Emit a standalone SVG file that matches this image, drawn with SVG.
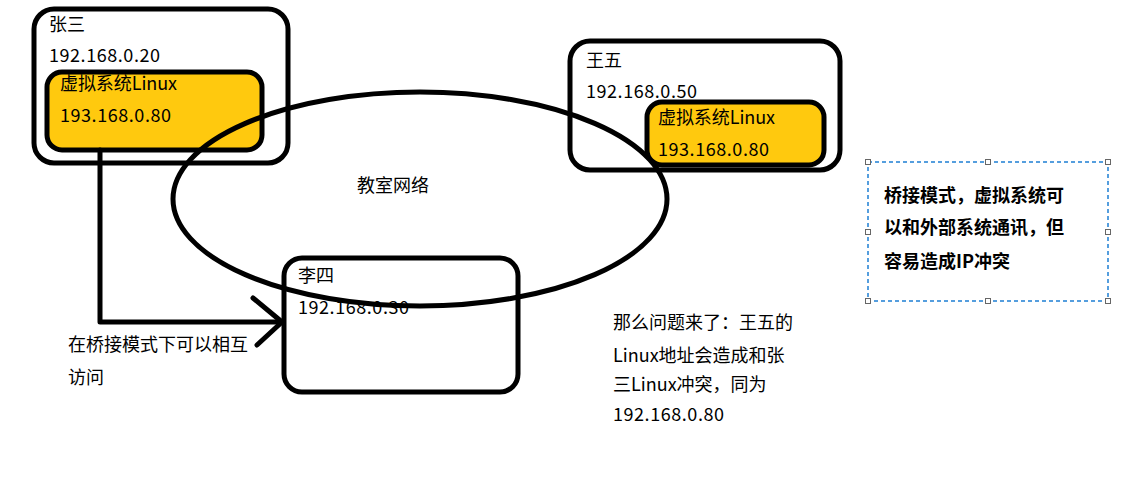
<svg xmlns="http://www.w3.org/2000/svg" width="1140" height="477" viewBox="0 0 1140 477">
<style>
.box{fill:none;stroke:#000;stroke-width:5}
.vm{fill:#FFC90E;stroke:#000;stroke-width:5}
.t{font-family:"Noto Sans CJK SC","Microsoft YaHei",sans-serif;font-size:18px;fill:#000}
.b{font-weight:bold}
.ln{fill:none;stroke:#000;stroke-width:5;stroke-linecap:round;stroke-linejoin:round}
.h{fill:#fff;stroke:#666;stroke-width:1}
</style>
<rect width="1140" height="477" fill="#fff"/>
<g id="zhangsan">
<rect class="box" x="34" y="9" width="254" height="154" rx="20"/>
<text class="t" x="49" y="31">张三</text>
<text class="t" x="49" y="62" textLength="111">192.168.0.20</text>
<g id="zhangsan-vm">
<rect class="vm" x="47" y="72" width="215" height="78" rx="15"/>
<text class="t" x="60" y="90" textLength="117">虚拟系统Linux</text>
<text class="t" x="60" y="122" textLength="111">193.168.0.80</text>
</g>
</g>
<g id="wangwu">
<rect class="box" x="570" y="41" width="270" height="129" rx="20"/>
<text class="t" x="586" y="67">王五</text>
<text class="t" x="586" y="98" textLength="111">192.168.0.50</text>
<g id="wangwu-vm">
<rect class="vm" x="647" y="102" width="177" height="63" rx="15"/>
<text class="t" x="658" y="124" textLength="117">虚拟系统Linux</text>
<text class="t" x="658" y="156" textLength="111">193.168.0.80</text>
</g>
</g>
<g id="lisi">
<rect class="box" x="284" y="258" width="234" height="134" rx="18"/>
<text class="t" x="298" y="282">李四</text>
<text class="t" x="298" y="314" textLength="111">192.168.0.30</text>
</g>
<g id="network">
<ellipse class="ln" cx="420" cy="199" rx="247" ry="107"/>
<text class="t" x="357" y="192">教室网络</text>
</g>
<g id="connectors">
<polyline class="ln" points="100,150 100,322 282,322" stroke-linecap="butt"/>
<polyline class="ln" points="253,298 282,322 257,345"/>
</g>
<g id="bridge-note">
<text class="t" x="68" y="351">在桥接模式下可以相互</text>
<text class="t" x="68" y="384">访问</text>
</g>
<g id="problem-note">
<text class="t" x="613" y="329">那么问题来了：王五的</text>
<text class="t" x="613" y="362">Linux地址会造成和张</text>
<text class="t" x="613" y="391">三Linux冲突，同为</text>
<text class="t" x="613" y="421" textLength="111">192.168.0.80</text>
</g>
<g id="info-box">
<rect x="868" y="162" width="240" height="139" fill="none" stroke="#1E7FD4" stroke-width="1.5" stroke-dasharray="4 3"/>
<rect class="h" x="865.5" y="159.5" width="5" height="5"/>
<rect class="h" x="985.5" y="159.5" width="5" height="5"/>
<rect class="h" x="1105.5" y="159.5" width="5" height="5"/>
<rect class="h" x="865.5" y="229.5" width="5" height="5"/>
<rect class="h" x="1105.5" y="229.5" width="5" height="5"/>
<rect class="h" x="865.5" y="298.5" width="5" height="5"/>
<rect class="h" x="985.5" y="298.5" width="5" height="5"/>
<rect class="h" x="1105.5" y="298.5" width="5" height="5"/>
<text class="t b" x="884" y="202">桥接模式，虚拟系统可</text>
<text class="t b" x="884" y="234">以和外部系统通讯，但</text>
<text class="t b" x="884" y="268">容易造成IP冲突</text>
</g>
</svg>
